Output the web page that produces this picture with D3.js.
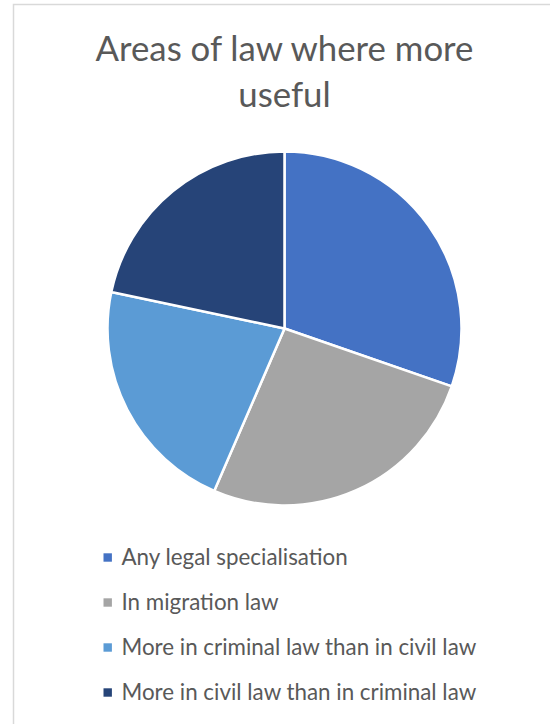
<!DOCTYPE html>
<html>
<head>
<meta charset="utf-8">
<script src="https://cdn.jsdelivr.net/npm/d3@7"></script>
<style>
  html, body { margin: 0; padding: 0; background: #fff; }
  svg { display: block; }
  text { font-family: Lato, "Open Sans", sans-serif; fill: #595959; }
</style>
</head>
<body>
<svg id="chart" width="550" height="724"></svg>
<script>
const titleLines = ["Areas of law where more", "useful"];
const categories = [
  "Any legal specialisation",
  "In migration law",
  "More in criminal law than in civil law",
  "More in civil law than in criminal law"
];
const values = [30.3, 26.2, 21.8, 21.7];
const colors = ["#4472C4", "#A5A5A5", "#5B9BD5", "#264478"];

const svg = d3.select("#chart");

// chart frame
svg.append("rect")
  .attr("x", 13.5).attr("y", 4.5)
  .attr("width", 560).attr("height", 740)
  .attr("fill", "#fff")
  .attr("stroke", "#d9d9d9").attr("stroke-width", 1.5);

// title
const cx = 284.5;
function fitText(sel, target) {
  let fs = parseFloat(sel.attr("font-size"));
  const w = sel.node().getComputedTextLength();
  sel.attr("font-size", fs * target / w);
  return fs * target / w;
}
const t1 = svg.append("text").attr("x", cx).attr("y", 61)
  .attr("text-anchor", "middle").attr("font-size", 32).text(titleLines[0]);
const tfs = fitText(t1, 378);
svg.append("text").attr("x", cx).attr("y", 107)
  .attr("text-anchor", "middle").attr("font-size", tfs).text(titleLines[1]);

// pie
const r = 177;
const g = svg.append("g").attr("transform", `translate(${cx},328.5)`);
const pie = d3.pie().sort(null).value(d => d.v);
const arc = d3.arc().innerRadius(0).outerRadius(r);
const data = categories.map((c, i) => ({ c, v: values[i], col: colors[i] }));
g.selectAll("path").data(pie(data)).join("path")
  .attr("d", arc)
  .attr("fill", d => d.data.col)
  .attr("stroke", "#fff")
  .attr("stroke-width", 2.5)
  .attr("stroke-linejoin", "round");

// legend
const ly = d3.scalePoint().domain(categories).range([557.5, 692.5]);
const leg = svg.append("g");
const rows = leg.selectAll("g").data(data).join("g")
  .attr("transform", d => `translate(0,${ly(d.c)})`);
rows.append("rect")
  .attr("x", 103.5).attr("y", -4.2).attr("width", 8.4).attr("height", 8.4)
  .attr("fill", d => d.col);
const lt = rows.append("text")
  .attr("x", 121.5).attr("y", 0).attr("dy", "0.35em")
  .attr("font-size", 20)
  .text(d => d.c);
// fit legend font to longest label width
const longest = lt.filter((d, i) => i === 3);
const lfs = 20 * 355 / longest.node().getComputedTextLength();
lt.attr("font-size", lfs);
</script>
</body>
</html>
